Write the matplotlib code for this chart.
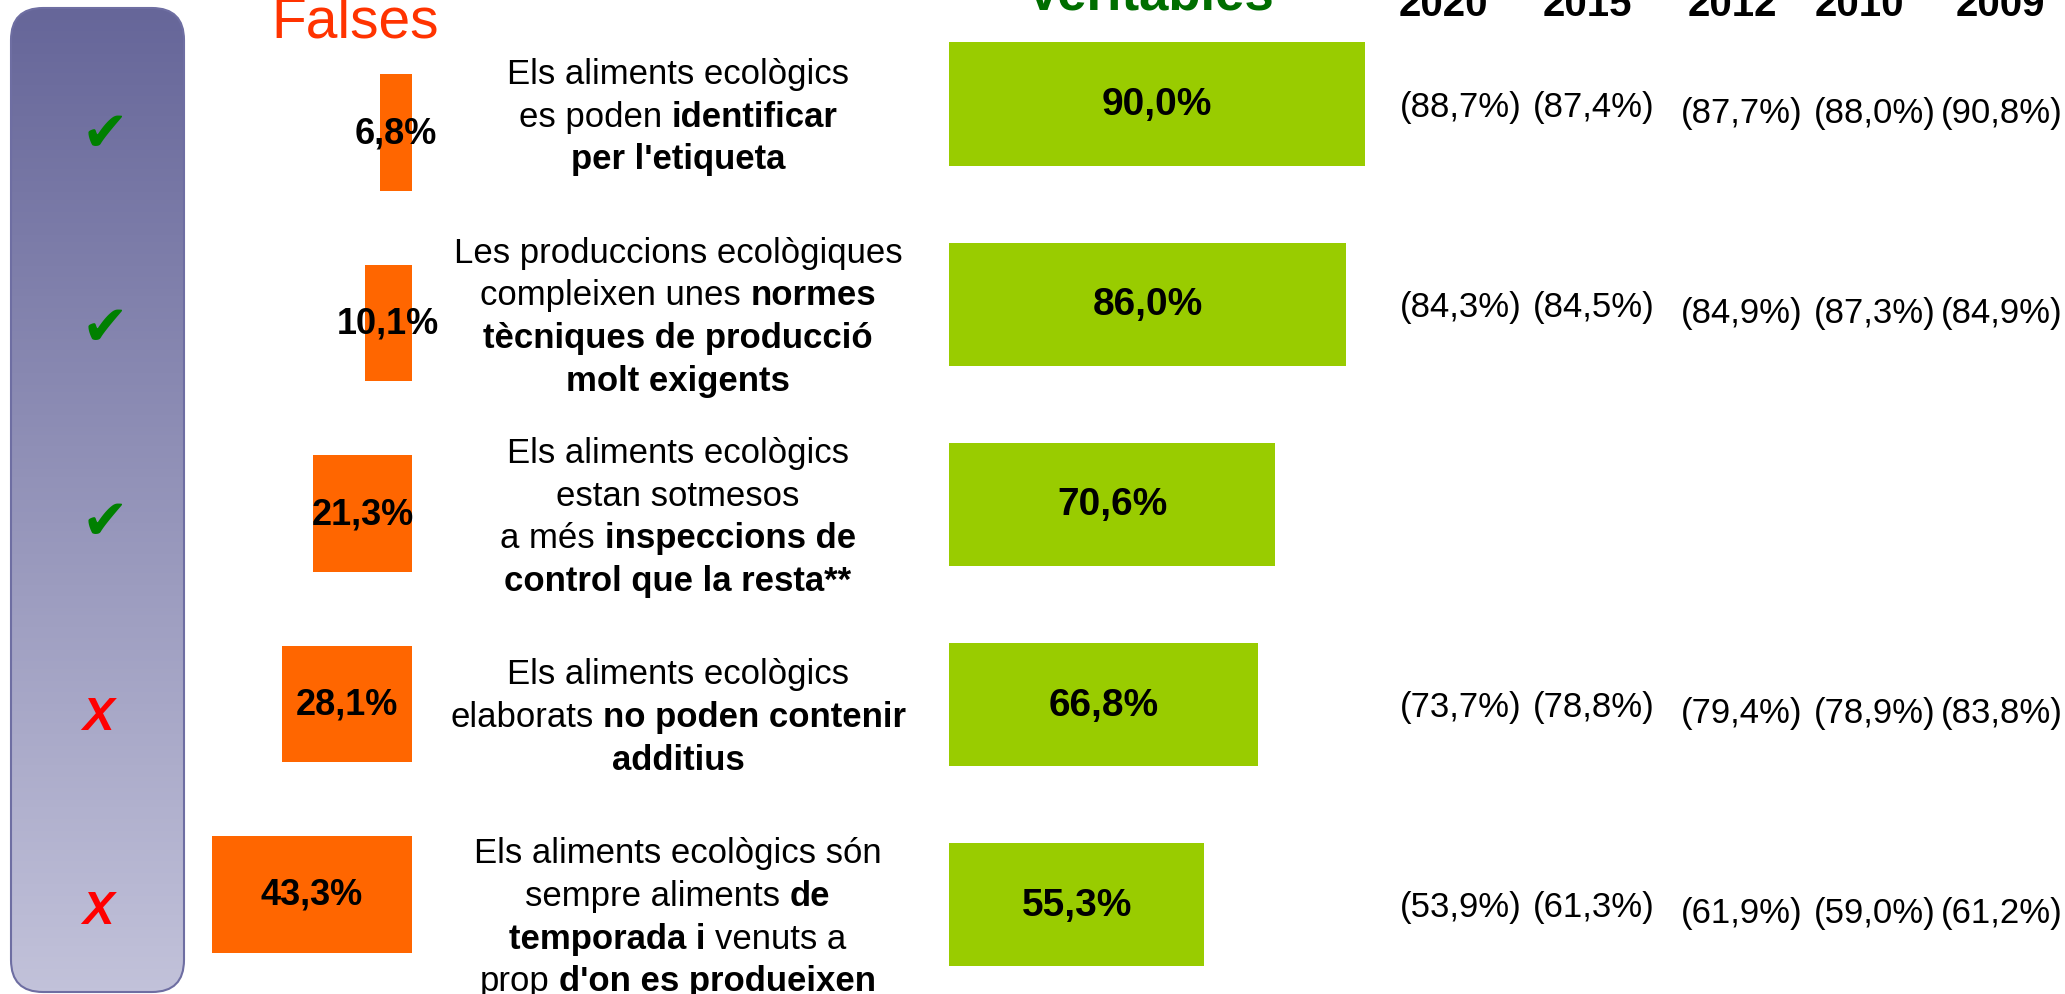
import numpy as np
import matplotlib
matplotlib.use('Agg')
import matplotlib.pyplot as plt
from matplotlib.patches import FancyBboxPatch
from matplotlib.offsetbox import TextArea, HPacker, VPacker, DrawingArea, AnnotationBbox
from matplotlib.transforms import blended_transform_factory

plt.rcParams['font.family'] = ['Liberation Sans', 'DejaVu Sans']

# data
falses = [6.8, 10.1, 21.3, 28.1, 43.3]
veritables = [90.0, 86.0, 70.6, 66.8, 55.3]
correct = [True, True, True, False, False]
years = ['2020', '2015', '2012', '2010', '2009']
history = [
    [88.7, 87.4, 87.7, 88.0, 90.8],
    [84.3, 84.5, 84.9, 87.3, 84.9],
    None,
    [73.7, 78.8, 79.4, 78.9, 83.8],
    [53.9, 61.3, 61.9, 59.0, 61.2],
]
# each statement: lines, each line a list of (text, bold)
statements = [
    [[("Els aliments ecològics", 0)],
     [("es poden", 0), ("identificar", 1)],
     [("per l'etiqueta", 1)]],
    [[("Les produccions ecològiques", 0)],
     [("compleixen unes", 0), ("normes", 1)],
     [("tècniques de producció", 1)],
     [("molt exigents", 1)]],
    [[("Els aliments ecològics", 0)],
     [("estan sotmesos", 0)],
     [("a més", 0), ("inspeccions de", 1)],
     [("control que la resta**", 1)]],
    [[("Els aliments ecològics", 0)],
     [("elaborats", 0), ("no poden contenir", 1)],
     [("additius", 1)]],
    [[("Els aliments ecològics són", 0)],
     [("sempre aliments", 0), ("de", 1)],
     [("temporada i", 1), ("venuts a", 0)],
     [("prop", 0), ("d'on es produeixen", 1)]],
]


def fmt(v):
    return f"{v:.1f}%".replace('.', ',')


W, H = 2065, 995
fig = plt.figure(figsize=(W / 100, H / 100), dpi=100)


def px_axes(left, top, width, height):
    return fig.add_axes([left / W, 1 - (top + height) / H, width / W, height / H])


# layout axes in pixel units
lay = fig.add_axes([0, 0, 1, 1])

# left rounded panel with vertical gradient
panel = FancyBboxPatch((11, 9), 173, 984, boxstyle="round,pad=0,rounding_size=32",
                       facecolor='none', edgecolor='#6E6EA2', linewidth=1.5, zorder=2)
lay.add_patch(panel)
top_c = np.array([0x66, 0x66, 0x99]) / 255
bot_c = np.array([0xC2, 0xC2, 0xDA]) / 255
t = np.linspace(0, 1, 256)[:, None, None]
grad = top_c * (1 - t) + bot_c * t
im = lay.imshow(grad, extent=(11, 184, 993, 9), origin='upper', aspect='auto', zorder=1)
im.set_clip_path(panel)
lay.set_xlim(0, W)
lay.set_ylim(H, 0)
lay.axis('off')

sc = 4.62  # pixels per percentage point
rows = np.arange(len(falses))

# falses bars (grow to the left)
axf = px_axes(411.6 - 60 * sc, 38.25, 60 * sc, 5 * 190.5)
axf.barh(rows, falses, height=0.61, color='#FF6600')
for r, v in zip(rows, falses):
    axf.text(v / 2, r, fmt(v), ha='center', va='center', fontsize=26, fontweight='bold')
axf.set_xlim(60, 0)
axf.set_ylim(4.5, -0.5)
axf.axis('off')

# veritables bars
axv = px_axes(949, 105 - 100.1, 100 * sc, 5 * 200.2)
axv.barh(rows, veritables, height=0.615, color='#99CC00')
for r, v in zip(rows, veritables):
    axv.text(v / 2, r, fmt(v), ha='center', va='center', fontsize=28, fontweight='bold')
axv.set_xlim(0, 100)
axv.set_ylim(4.5, -0.5)
axv.axis('off')

# headers
lay.text(355, 38, 'Falses', ha='center', va='baseline', fontsize=41, color='#FF3300')
lay.text(1150, 10, 'Veritables', ha='center', va='baseline', fontsize=38,
         fontweight='bold', color='#006E00')
year_x = [1443, 1587, 1732, 1859, 2000]
for x, y in zip(year_x, years):
    lay.text(x, 16, y, ha='center', va='baseline', fontsize=29, fontweight='bold')

# check / cross markers
for i, ok in enumerate(correct):
    y = 136 + 194 * i
    if ok:
        lay.text(105, y, '\u2714', ha='center', va='center', fontsize=40,
                 color='#008000', family=['DejaVu Sans'])
    else:
        lay.text(98, y, 'X', ha='center', va='center', fontsize=34, color='#FF0000',
                 fontweight='bold', fontstyle='italic')

# statements
row_tr = blended_transform_factory(lay.transData, axv.transData)
fs = 25
for i, lines in enumerate(statements):
    packed = []
    for line in lines:
        kids = []
        for k, (txt, bold) in enumerate(line):
            if k > 0:
                kids.append(DrawingArea(0.278 * fs, 1))
            kids.append(TextArea(txt, textprops=dict(fontsize=fs,
                                                     fontweight='bold' if bold else 'normal')))
        packed.append(HPacker(children=kids, align='baseline', pad=0, sep=0))
    box = VPacker(children=packed, align='center', pad=0, sep=7)
    ab = AnnotationBbox(box, (678, i + 0.06), xycoords=row_tr, frameon=False,
                        box_alignment=(0.5, 0.5))
    lay.add_artist(ab)

# history values
hist_x = [1461, 1594, 1742, 1875, 2002]
for i, vals in enumerate(history):
    if vals is None:
        continue
    for j, v in enumerate(vals):
        dy = 0.01 if j < 2 else 0.04
        lay.text(hist_x[j], i + dy, '(' + fmt(v) + ')', transform=row_tr,
                 ha='center', va='center', fontsize=25)

fig.savefig('out.png', dpi=100)
